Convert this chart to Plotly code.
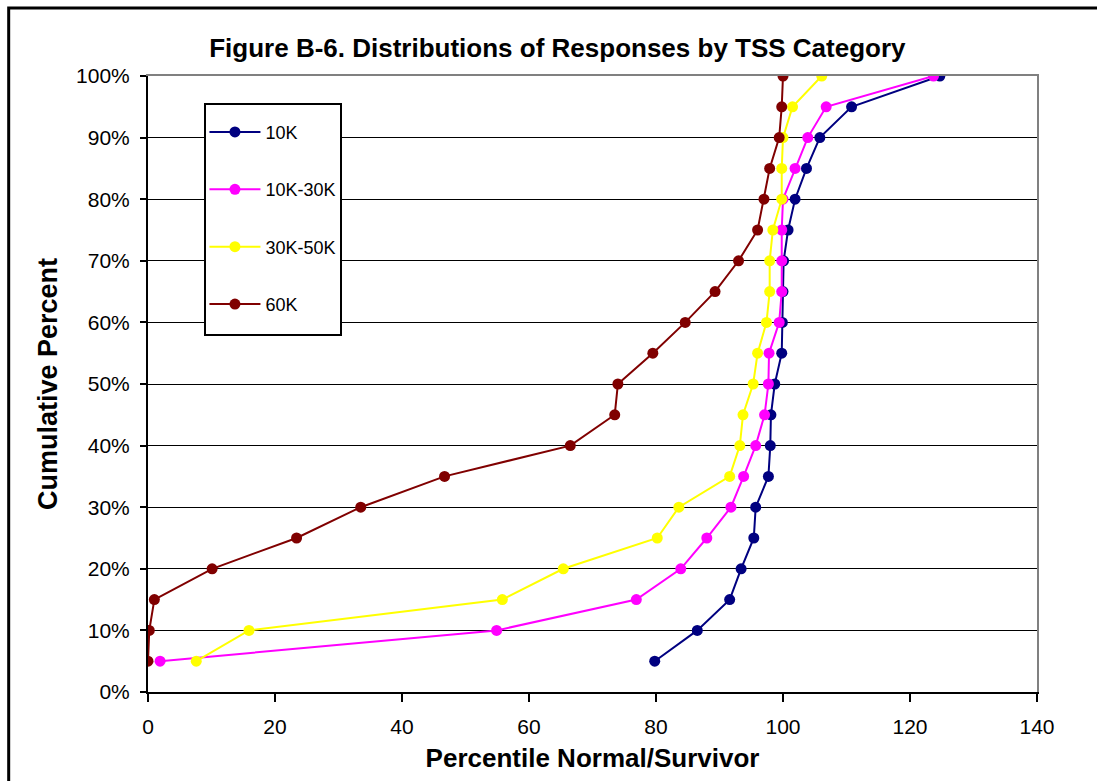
import plotly.graph_objects as go

# Cumulative percent levels (y) and percentile values (x) per TSS category
cum_pct = [5, 10, 15, 20, 25, 30, 35, 40, 45, 50, 55, 60, 65, 70, 75, 80, 85, 90, 95, 100]

tss_10k = [79.8, 86.5, 91.6, 93.4, 95.4, 95.7, 97.7, 98.0, 98.1, 98.7,
           99.8, 99.9, 100.0, 100.1, 100.8, 101.9, 103.7, 105.8, 110.8, 124.7]
tss_10k_30k = [1.9, 54.9, 76.9, 83.9, 88.0, 91.8, 93.8, 95.7, 97.1, 97.7,
               97.8, 99.4, 99.8, 99.8, 99.8, 100.0, 101.9, 103.9, 106.8, 123.7]
tss_30k_50k = [7.6, 15.9, 55.8, 65.4, 80.2, 83.6, 91.6, 93.2, 93.7, 95.3,
               96.0, 97.4, 97.9, 97.9, 98.4, 99.8, 99.8, 100.0, 101.5, 106.1]
tss_60k = [0.0, 0.2, 1.0, 10.1, 23.4, 33.5, 46.7, 66.5, 73.5, 74.0,
           79.5, 84.6, 89.3, 93.0, 96.0, 97.0, 97.9, 99.4, 99.8, 100.0]

series_names = ["10K", "10K-30K", "30K-50K", "60K"]
series_values = [tss_10k, tss_10k_30k, tss_30k_50k, tss_60k]
series_colors = ["#000080", "#FF00FF", "#FFFF00", "#800000"]

x_ticks = [0, 20, 40, 60, 80, 100, 120, 140]
y_ticks = [0, 10, 20, 30, 40, 50, 60, 70, 80, 90, 100]
y_tick_text = [f"{v}%" for v in y_ticks]

FONT = "Liberation Sans, Arial, sans-serif"

fig = go.Figure()
for name, vals, color in zip(series_names, series_values, series_colors):
    fig.add_trace(go.Scatter(
        x=vals, y=cum_pct, name=name, mode="lines+markers",
        legendgroup=name,
        line=dict(color=color, width=2),
        marker=dict(color=color, size=11, line=dict(width=0)),
    ))

# invisible trace to carry the top/right frame axes
fig.add_trace(go.Scatter(x=[None], y=[None], xaxis="x2", yaxis="y2",
                         showlegend=False, hoverinfo="skip"))

fig.update_layout(
    width=1097, height=781,
    margin=dict(l=148, r=60, t=76, b=89),
    paper_bgcolor="white", plot_bgcolor="white",
    font=dict(family=FONT, color="black", size=20),
    title=dict(
        text="<b>Figure B-6. Distributions of Responses by TSS Category</b>",
        x=0.4605, xref="paper", xanchor="center",
        y=1.0 - 48 / 781, yref="container", yanchor="middle",
        font=dict(family=FONT, size=26, color="black"),
    ),
    xaxis=dict(
        range=[0, 140], tickvals=x_ticks, ticks="outside", ticklen=8,
        tickwidth=2, tickcolor="black", showline=True, linecolor="black",
        linewidth=2, showgrid=False, zeroline=False, layer="below traces",
        tickfont=dict(size=21), ticklabelstandoff=7,
        title=dict(text="<b>Percentile Normal/Survivor</b>",
                   font=dict(size=26), standoff=12),
    ),
    yaxis=dict(
        range=[0, 100], tickvals=y_ticks, ticktext=y_tick_text,
        ticks="outside", ticklen=6, tickwidth=2, tickcolor="black",
        showline=True, linecolor="black", linewidth=2,
        showgrid=True, gridcolor="black", gridwidth=1, zeroline=False,
        layer="below traces", tickfont=dict(size=21), ticklabelstandoff=6,
        title=dict(text="<b>Cumulative Percent</b>",
                   font=dict(size=27), standoff=11),
    ),
    xaxis2=dict(overlaying="x", side="top", range=[0, 140], showline=True,
                linecolor="#808080", linewidth=2, showticklabels=False,
                ticks="", showgrid=False, zeroline=False),
    yaxis2=dict(overlaying="y", side="right", range=[0, 100], showline=True,
                linecolor="#808080", linewidth=2, showticklabels=False,
                ticks="", showgrid=False, zeroline=False),
    legend=dict(
        x=0.0635, y=0.9388, xanchor="left", yanchor="top",
        bgcolor="rgba(0,0,0,0)", borderwidth=0,
        font=dict(size=18, color="black"), tracegroupgap=31,
        itemwidth=51,
    ),
    shapes=[
        # legend frame
        dict(type="rect", xref="paper", yref="paper",
             x0=(205 - 148) / 889, x1=(341 - 148) / 889,
             y0=(692 - 335) / 616, y1=(692 - 104) / 616,
             line=dict(color="black", width=2), fillcolor="white",
             layer="above"),
        # outer chart frame
        dict(type="rect", xref="paper", yref="paper",
             x0=-0.1567, x1=1.12, y0=-0.18, y1=1.1104,
             line=dict(color="black", width=3), fillcolor="rgba(0,0,0,0)",
             layer="above"),
    ],
)

fig.write_html("out.html")
